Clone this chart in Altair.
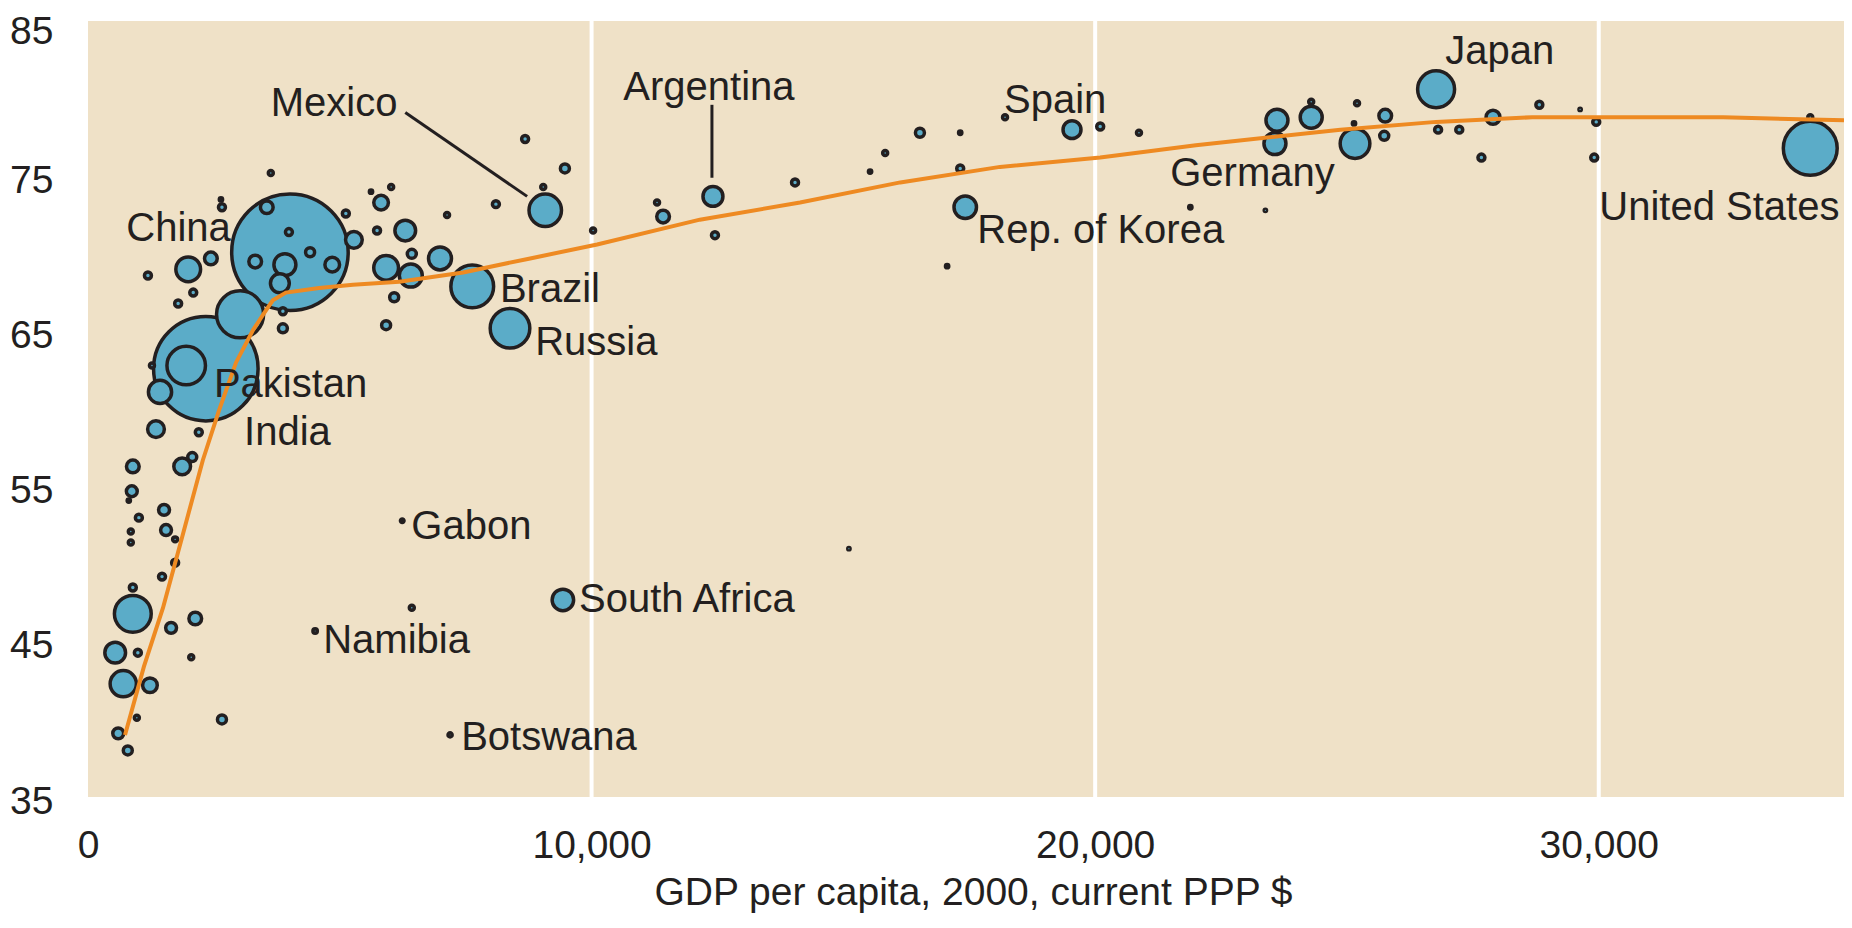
import altair as alt
import pandas as pd

# ---- bubble data: GDP per capita (PPP $), life expectancy (years), population (millions)
gdp = [4010, 2340, 34200, 3020, 7630, 8380, 1950, 1430, 26770, 890,
       9080, 25160, 700, 1990, 5920, 23610, 23570, 24290, 6410, 6990,
       6300, 3810, 3910, 3320, 4850, 3550, 5280, 2440, 5820, 12410,
       17420, 19540, 9430, 27900, 25760, 25740, 1350, 1870, 2070, 890,
       870, 1510, 1010, 850, 850, 1550, 1730, 1730, 1470, 890,
       1650, 2130, 2050, 540, 990, 1230, 970, 600, 790, 2660,
       6240, 4510, 7190, 6430, 15110, 3630, 2660, 2640, 1190, 2090,
       1790, 3990, 4410, 5120, 5620, 6020, 5740, 7130, 8100, 8680,
       9470, 9040, 6430, 6080, 5920, 3870, 3870, 10030, 11420, 11300,
       12450, 14040, 15530, 15830, 16520, 17320, 17320, 17060, 18210, 20100,
       20870, 21890, 23380, 24290, 25200, 25140, 26810, 27230, 27670, 28820,
       29630, 29950, 29910, 34200, 2200, 1270, 810]
life = [70.1, 62.6, 76.8, 66.1, 67.9, 65.2, 62.8, 61.1, 80.6, 46.8,
        72.8, 77.1, 42.3, 69.0, 69.1, 78.6, 77.1, 78.8, 68.6, 69.7,
        71.5, 68.1, 69.3, 69.5, 69.3, 73.0, 70.9, 69.7, 73.3, 73.7,
        73.0, 78.0, 47.7, 78.8, 78.9, 77.6, 58.7, 56.3, 56.9, 56.3,
        54.7, 53.5, 53.0, 52.1, 51.4, 52.2, 51.6, 50.1, 49.2, 48.5,
        45.9, 46.5, 44.0, 44.3, 44.3, 42.2, 40.1, 39.1, 38.0, 40.0,
        52.8, 45.7, 39.0, 47.2, 51.0, 75.2, 73.0, 73.5, 68.6, 67.5,
        66.8, 71.4, 70.1, 72.6, 74.0, 74.3, 71.5, 72.5, 73.2, 77.4,
        75.5, 74.3, 70.0, 67.2, 65.4, 66.3, 65.2, 71.5, 72.4, 73.3,
        71.2, 74.6, 75.3, 76.5, 77.8, 77.8, 75.5, 69.2, 78.8, 78.2,
        77.8, 73.0, 72.8, 79.8, 79.7, 78.4, 78.0, 78.0, 76.2, 79.6,
        79.3, 78.5, 76.2, 78.8, 58.5, 62.8, 54.1]
pop = [1262, 1016, 270, 206, 170, 146, 138, 50, 127, 126,
       98, 82, 64, 57, 57, 45, 45, 45, 49, 49,
       40, 33, 45, 15, 20, 15, 26, 15, 20, 37,
       47, 30, 43, 18, 15, 7.5, 26, 26, 7.5, 15,
       11, 11, 4.5, 2.3, 2.3, 11, 2.3, 4.5, 4.5, 4.5,
       11, 15, 2.3, 40, 4.5, 20, 2.3, 11, 7.5, 7.5,
       1.2, 1.8, 1.6, 2.3, 0.5, 2.3, 4.5, 1, 4.5, 4.5,
       4.5, 4.5, 7.5, 4.5, 1, 2.3, 4.5, 2.3, 4.5, 4.5,
       7.5, 2.3, 7.5, 7.5, 7.5, 4.5, 7.5, 2.3, 15, 2.3,
       4.5, 4.5, 1, 2.3, 7.5, 1, 4.5, 1, 2.3, 4.5,
       2.3, 1, 0.5, 2.3, 2.3, 1, 4.5, 4.5, 4.5, 4.5,
       0.5, 4.5, 4.5, 2.3, 4.5, 2.3, 1]

# ---- fitted curve (orange)
fit_gdp = [735, 1110, 1490, 1890, 2280, 2600, 2940, 3280, 3480, 3670,
           3930, 4590, 5260, 6180, 7450, 8780, 10110, 12150, 14140, 16130,
           18110, 20100, 22000, 24870, 26770, 28680, 30010, 32470, 34870]
fit_life = [39.0, 43.4, 47.2, 52.0, 56.7, 59.9, 63.0, 65.1, 66.1, 67.0,
            67.5, 67.8, 68.0, 68.2, 68.8, 69.7, 70.6, 72.2, 73.3, 74.6,
            75.6, 76.2, 77.0, 78.0, 78.5, 78.8, 78.8, 78.8, 78.6]

# ---- country labels
label_text = ["Mexico", "Argentina", "Spain", "Japan", "Germany", "Rep. of Korea",
              "United States", "China", "Brazil", "Russia", "Pakistan", "India",
              "Gabon", "Namibia", "South Africa", "Botswana"]
label_gdp = [3630, 10630, 18190, 26950, 21490, 17660,
             30010, 760, 8180, 8880, 2500, 3100,
             6420, 4670, 9750, 7410]
label_life = [78.9, 79.9, 79.1, 82.2, 74.4, 70.7,
              72.2, 70.8, 66.9, 63.5, 60.8, 57.7,
              51.6, 44.3, 46.9, 38.0]

# ---- leader lines (Mexico, Argentina)
conn_gdp = [6300, 12390]
conn_life = [79.1, 79.6]
conn_gdp2 = [8720, 12390]
conn_life2 = [73.7, 74.9]

grid_x = [10000, 20000, 30000]
x_ticks = [0, 10000, 20000, 30000]
y_ticks = [35, 45, 55, 65, 75, 85]

FONT = "Liberation Sans"
INK = "#231F20"
BG = "#EFE1C7"
XDOM = [0, 34870]
YDOM = [35, 85]

bubbles = pd.DataFrame({"gdp": gdp, "life": life, "pop": pop})
fit = pd.DataFrame({"gdp": fit_gdp, "life": fit_life})
labels = pd.DataFrame({"text": label_text, "gdp": label_gdp, "life": label_life})
conns = pd.DataFrame({"gdp": conn_gdp, "life": conn_life, "gdp2": conn_gdp2, "life2": conn_life2})
grid = pd.DataFrame({"gdp": grid_x})

xscale = alt.Scale(domain=XDOM, nice=False, zero=False)
yscale = alt.Scale(domain=YDOM, nice=False, zero=False)

x_axis = alt.Axis(
    values=x_ticks, format=",d", grid=False, domain=False, ticks=False, tickSize=0,
    labelFont=FONT, labelFontSize=39, labelColor=INK, labelPadding=29,
    labelFlush=False,
    title="GDP per capita, 2000, current PPP $",
    titleFont=FONT, titleFontSize=39, titleFontWeight="normal", titleColor=INK,
    titleBaseline="alphabetic", titleX=885, titleY=107,
)
y_axis = alt.Axis(
    values=y_ticks, grid=False, domain=False, ticks=False, tickSize=0,
    labelFont=FONT, labelFontSize=39, labelColor=INK, labelPadding=35,
    labelBaseline="middle",
    labelOffset={"condition": {"test": "datum.value == 85", "value": 10}, "value": 4},
    title=None,
)

X = alt.X("gdp:Q", scale=xscale, axis=x_axis, title="GDP per capita, 2000, current PPP $")
Y = alt.Y("life:Q", scale=yscale, axis=y_axis, title=None)

grid_layer = alt.Chart(grid).mark_rule(color="white", strokeWidth=4).encode(x=X)

conn_layer = alt.Chart(conns).mark_rule(color=INK, strokeWidth=3).encode(
    x=X, y=Y, x2="gdp2:Q", y2="life2:Q",
)

bubble_layer = alt.Chart(bubbles).mark_circle(
    opacity=1, fill="#5BACC8", stroke=INK, strokeWidth=3.5
).encode(
    x=X,
    y=Y,
    size=alt.Size("pop:Q", scale=alt.Scale(domain=[0, 1262], range=[0, 13572]), legend=None),
    order=alt.Order("pop:Q", sort="descending"),
)

fit_layer = alt.Chart(fit).mark_line(color="#EE8A22", strokeWidth=4).encode(x=X, y=Y)

label_layer = alt.Chart(labels).mark_text(
    align="left", baseline="alphabetic", font=FONT, fontSize=40, color=INK
).encode(x=X, y=Y, text="text:N")

chart = alt.layer(
    grid_layer, conn_layer, bubble_layer, fit_layer, label_layer
).properties(
    width=1756,
    height=776,
    autosize=alt.AutoSizeParams(type="none"),
    padding={"left": 80, "top": 13, "right": 0, "bottom": 117},
).configure_view(
    fill=BG, stroke=None
)

chart.save("out.html", embed_options={"renderer": "svg", "actions": False})
